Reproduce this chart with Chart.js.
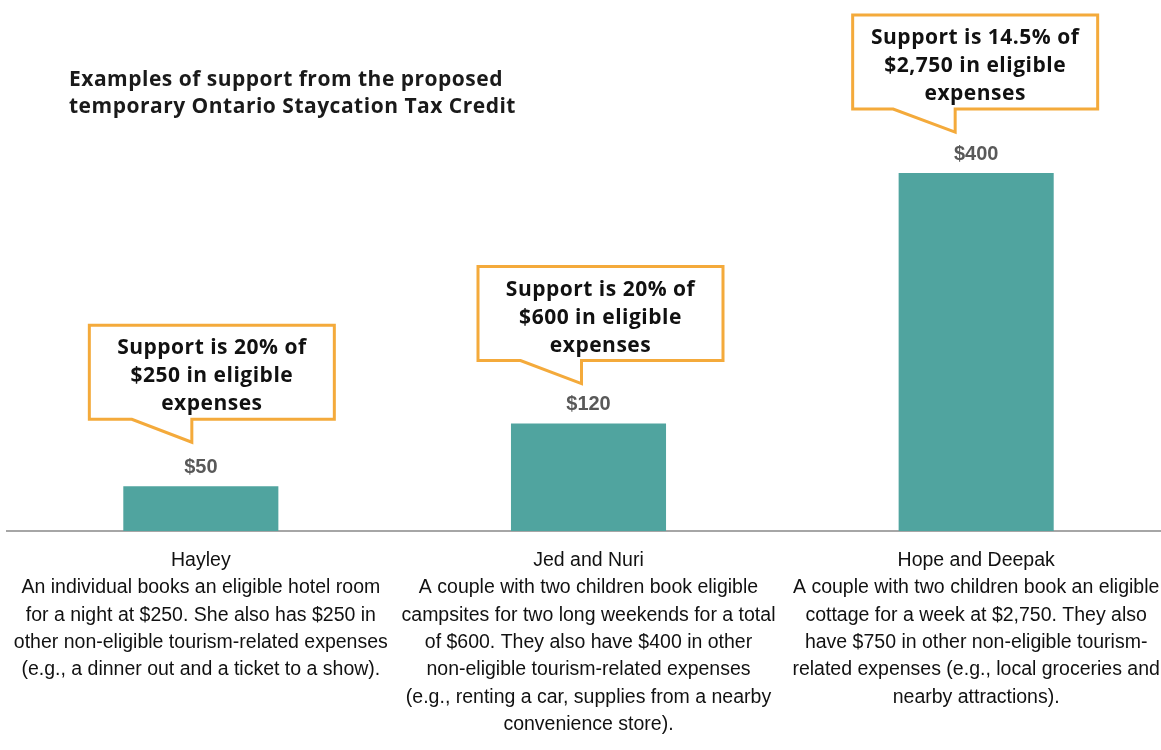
<!DOCTYPE html>
<html>
<head>
<meta charset="utf-8">
<script src="https://cdn.jsdelivr.net/npm/chart.js@4"></script>
<style>
    html, body { margin: 0; padding: 0; background: #fff; overflow: hidden; }
    #wrap { position: relative; width: 1170px; height: 750px; }
</style>
</head>
<body>
<div id="wrap"><canvas id="staycationChart"></canvas></div>
<script>
// Data
const names = ['Hayley', 'Jed and Nuri', 'Hope and Deepak'];
const descriptions = [
    ['An individual books an eligible hotel room',
     'for a night at $250. She also has $250 in',
     'other non-eligible tourism-related expenses',
     '(e.g., a dinner out and a ticket to a show).'],
    ['A couple with two children book eligible',
     'campsites for two long weekends for a total',
     'of $600. They also have $400 in other',
     'non-eligible tourism-related expenses',
     '(e.g., renting a car, supplies from a nearby',
     'convenience store).'],
    ['A couple with two children book an eligible',
     'cottage for a week at $2,750. They also',
     'have $750 in other non-eligible tourism-',
     'related expenses (e.g., local groceries and',
     'nearby attractions).']
];
const support = [50, 120, 400];
const calloutText = [
    ['Support is 20% of', '$250 in eligible', 'expenses'],
    ['Support is 20% of', '$600 in eligible', 'expenses'],
    ['Support is 14.5% of', '$2,750 in eligible', 'expenses']
];
const titleLines = ['Examples of support from the proposed', 'temporary Ontario Staycation Tax Credit'];

// Callout placement relative to each bar (style only)
const calloutStyle = [
    { dx: 11, gap: 67, tailLeft: -69, tailTip: -9 },
    { dx: 12, gap: 63, tailLeft: -68, tailTip: -7 },
    { dx: -1, gap: 64, tailLeft: -83, tailTip: -21 }
];

const headFont = '"Open Sans", "Lato", sans-serif';
const narrowFont = '"Liberation Sans Narrow", "Arial Narrow", "Liberation Sans", sans-serif';

const overlayPlugin = {
    id: 'overlay',
    afterDatasetsDraw(chart) {
        const ctx = chart.ctx;
        const meta = chart.getDatasetMeta(0);
        ctx.save();

        // title
        ctx.fillStyle = '#1a1a1a';
        ctx.font = `700 21px ${headFont}`;
        ctx.letterSpacing = '0.5px';
        ctx.textAlign = 'left';
        ctx.textBaseline = 'middle';
        titleLines.forEach((t, i) => ctx.fillText(t, 69, 80 + i * 27.5));

        meta.data.forEach((bar, i) => {
            // value label
            ctx.letterSpacing = '0px';
            ctx.fillStyle = '#595959';
            ctx.font = `bold 20px ${narrowFont}`;
            ctx.textAlign = 'center';
            ctx.textBaseline = 'middle';
            ctx.fillText('$' + support[i], bar.x, bar.y - 19);

            // callout box with tail
            const s = calloutStyle[i];
            const w = 245, h = 94;
            const bottom = bar.y - s.gap;
            const top = bottom - h;
            const left = bar.x + s.dx - w / 2;
            const right = left + w;
            const tl = bar.x + s.tailLeft;
            const tt = bar.x + s.tailTip;
            ctx.beginPath();
            ctx.moveTo(left, top);
            ctx.lineTo(right, top);
            ctx.lineTo(right, bottom);
            ctx.lineTo(tt, bottom);
            ctx.lineTo(tt, bottom + 23);
            ctx.lineTo(tl, bottom);
            ctx.lineTo(left, bottom);
            ctx.closePath();
            ctx.fillStyle = '#fff';
            ctx.fill();
            ctx.strokeStyle = '#F4AA3B';
            ctx.lineWidth = 3;
            ctx.lineJoin = 'miter';
            ctx.stroke();

            ctx.fillStyle = '#111';
            ctx.font = `700 21px ${headFont}`;
            ctx.letterSpacing = '0.5px';
            calloutText[i].forEach((t, j) => {
                ctx.fillText(t, left + w / 2, top + 23 + j * 28);
            });
        });
        ctx.restore();
    }
};

const ctx = document.getElementById('staycationChart').getContext('2d');
new Chart(ctx, {
    type: 'bar',
    data: {
        labels: names.map((n, i) => [n].concat(descriptions[i])),
        datasets: [{
            label: 'Support',
            data: support,
            backgroundColor: '#50A49F',
            barPercentage: 0.4,
            categoryPercentage: 1
        }]
    },
    options: {
        responsive: true,
        maintainAspectRatio: false,
        animation: false,
        layout: { padding: { top: 12, left: 7, right: 0, bottom: 0 } },
        plugins: {
            legend: { display: false },
            tooltip: { enabled: false }
        },
        scales: {
            x: {
                grid: { display: false, drawTicks: false },
                border: { display: true, color: '#A6A6A6', width: 2 },
                ticks: {
                    color: '#111',
                    padding: 16,
                    maxRotation: 0,
                    autoSkip: false,
                    font: { family: narrowFont, size: 19.5, lineHeight: 1.4 }
                },
                afterFit(scale) {
                    scale.height = 219;
                    scale.paddingLeft = 0;
                    scale.paddingRight = 0;
                }
            },
            y: {
                display: false,
                min: 0,
                max: 580
            }
        }
    },
    plugins: [overlayPlugin]
});
</script>
</body>
</html>
